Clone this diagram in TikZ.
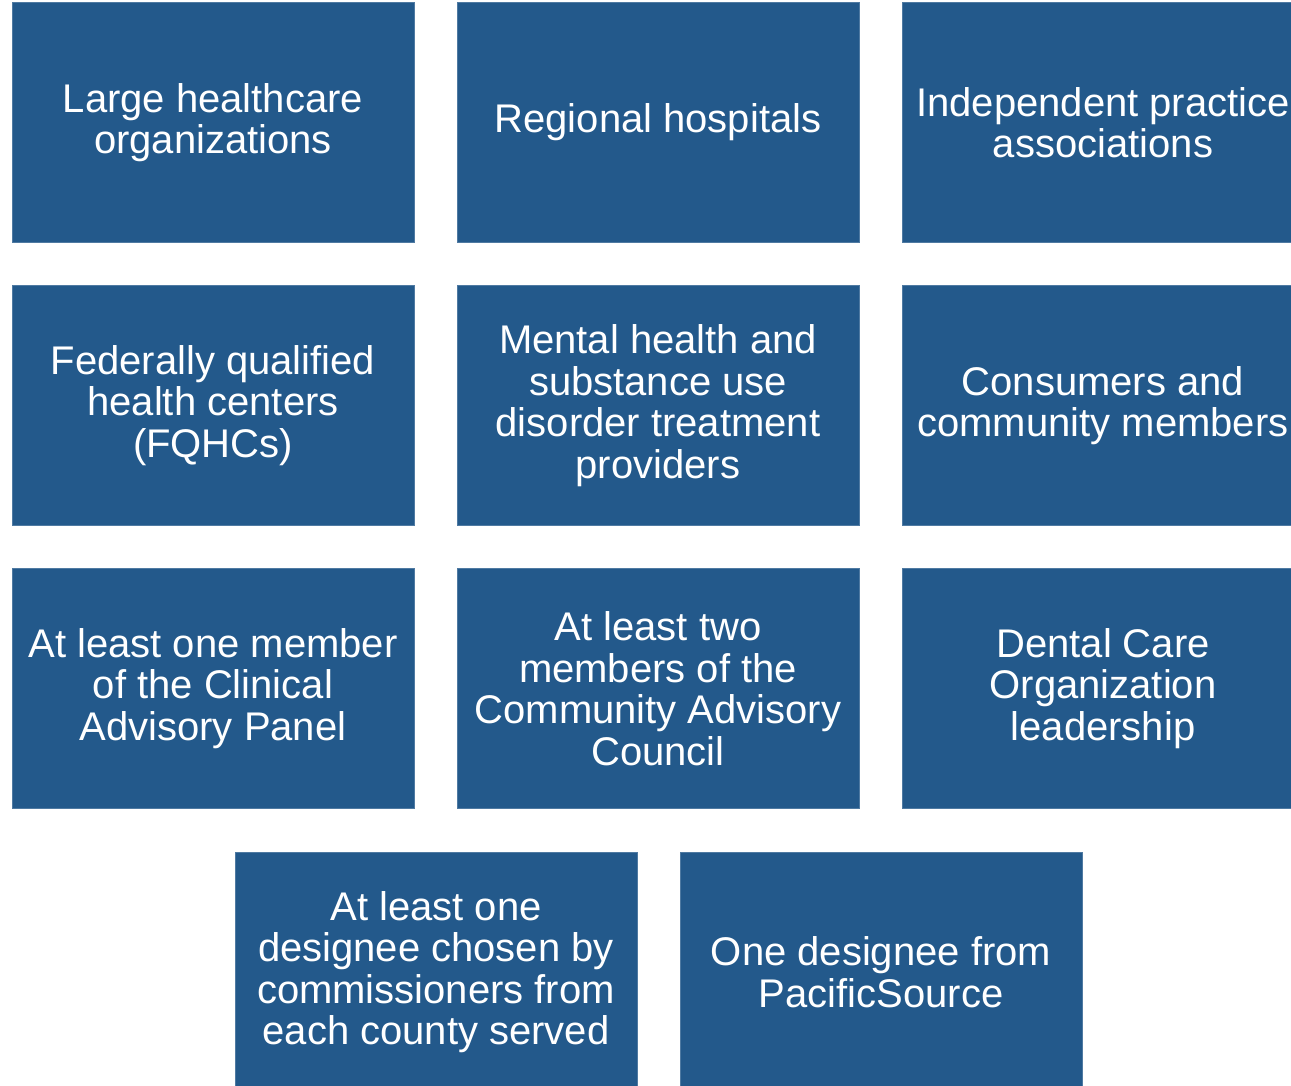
\documentclass[tikz,border=0pt]{standalone}
\usepackage{fontspec}
\setmainfont{Liberation Sans}
\usepackage{tikz}
\definecolor{boxblue}{RGB}{35,89,139}

\begin{document}
\begin{tikzpicture}[x=0.5pt,y=-0.5pt,
	cell/.style={rectangle,fill=boxblue,draw=boxblue!80!white,line width=0.4pt,
		minimum width=201pt,minimum height=120pt,inner sep=0pt,
		text=white,align=center,font=\fontsize{20}{20.75}\selectfont}]
\useasboundingbox (0,0) rectangle (1291,1086);
\clip (0,0) rectangle (1291,1086);
% first row
\node[cell] (large) at (213,122.5) {Large healthcare\\organizations};
\node[cell] (regional) at (658,122.5) {Regional hospitals};
\node[cell] (ipa) at (1103,122.5) {Independent practice\\associations};
% second row
\node[cell] (fqhc) at (213,405.5) {Federally qualified\\health centers\\(FQHCs)};
\node[cell] (mental) at (658,405.5) {Mental health and\\substance use\\disorder treatment\\providers};
\node[cell] (consumers) at (1103,405.5) {Consumers and\\community members};
% third row
\node[cell] (clinical) at (213,688.5) {At least one member\\of the Clinical\\Advisory Panel};
\node[cell] (cac) at (658,688.5) {At least two\\members of the\\Community Advisory\\Council};
\node[cell] (dental) at (1103,688.5) {Dental Care\\Organization\\leadership};
% last row
\node[cell] (county) at (436,972) {At least one\\designee chosen by\\commissioners from\\each county served};
\node[cell] (pacific) at (881,972) {One designee from\\PacificSource};
\end{tikzpicture}
\end{document}
